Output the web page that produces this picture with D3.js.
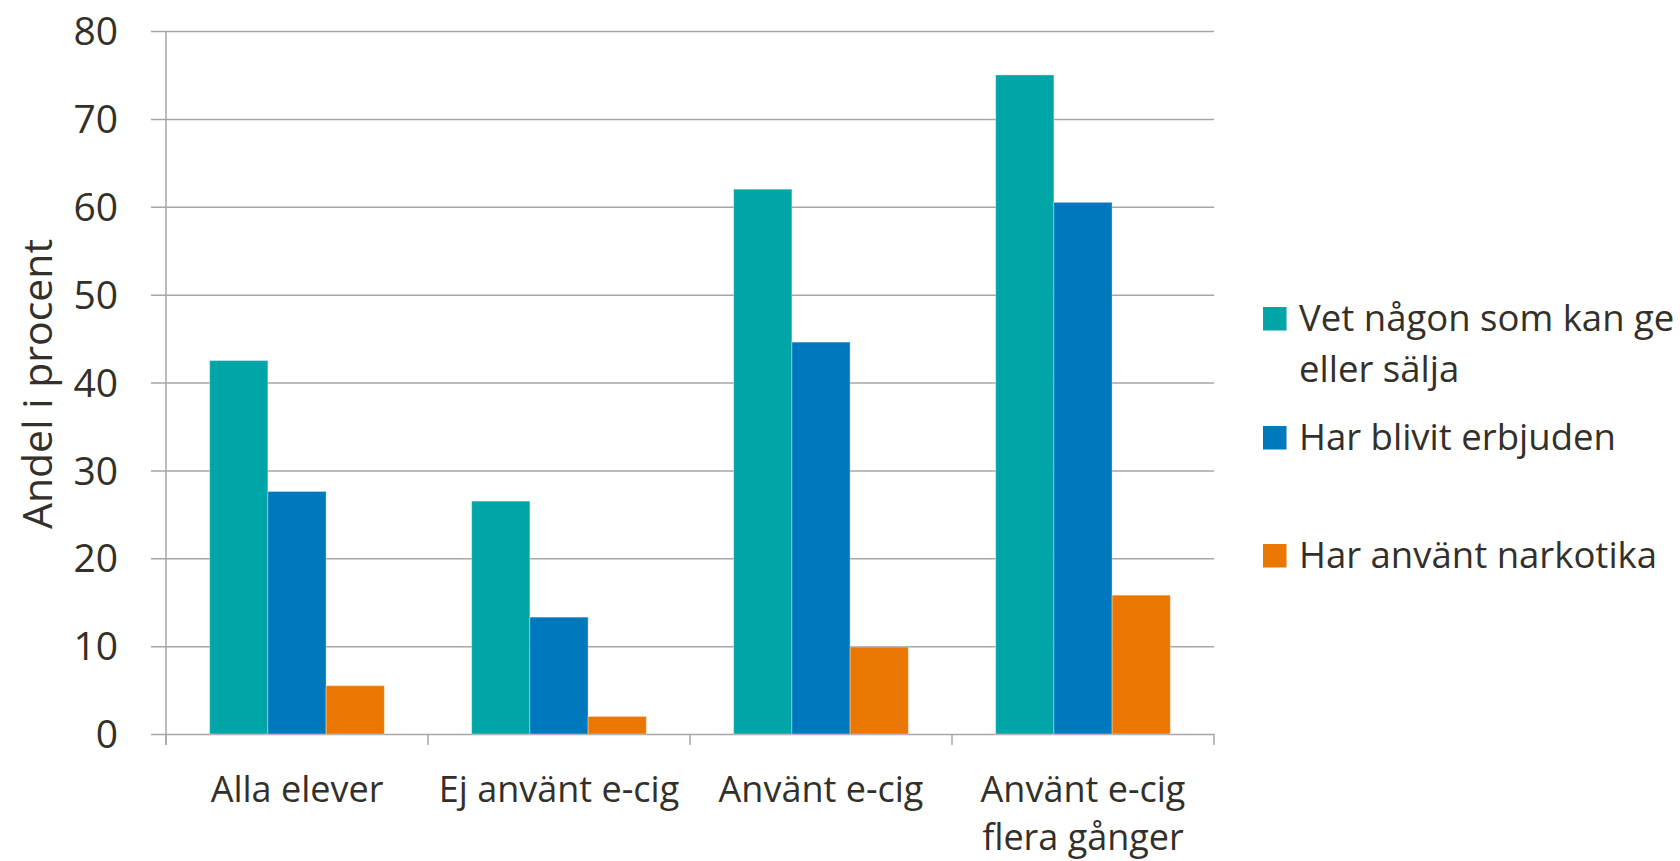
<!DOCTYPE html>
<html>
<head>
<meta charset="utf-8">
<script src="https://cdn.jsdelivr.net/npm/d3@7"></script>
<style>
  html, body { margin: 0; padding: 0; background: #ffffff; }
  svg { display: block; }
  text { font-family: "Open Sans", "Noto Sans", sans-serif; fill: #33302a; }
</style>
</head>
<body>
<svg id="chart" width="1680" height="861"></svg>
<script>
// ---- data ----
const categories = ["Alla elever", "Ej använt e-cig", "Använt e-cig", "Använt e-cig\nflera gånger"];
const seriesNames = ["Vet någon som kan ge\neller sälja", "Har blivit erbjuden", "Har använt narkotika"];
const vetNagon   = [42.5, 26.5, 62.0, 75.0];
const erbjuden   = [27.6, 13.3, 44.6, 60.5];
const narkotika  = [5.5, 2.0, 9.9, 15.8];
const yTicks = [0, 10, 20, 30, 40, 50, 60, 70, 80];
const yTitle = "Andel i procent";
const colors = ["#00A5A8", "#0078BD", "#EB7703"];

const seriesValues = [vetNagon, erbjuden, narkotika];

// ---- layout ----
const svg = d3.select("#chart");
const plotLeft = 166, plotRight = 1214, plotTop = 31, plotBottom = 734;

const x = d3.scaleBand().domain(categories).range([plotLeft, plotRight]).paddingInner(0).paddingOuter(0);
const bw = x.bandwidth();
const xs = d3.scaleBand().domain(d3.range(seriesNames.length))
  .range([bw * 0.75 / 4.5, bw * 3.75 / 4.5]).paddingInner(0).paddingOuter(0);
const y = d3.scaleLinear().domain([0, 80]).range([plotBottom, plotTop]);

// gridlines + y tick labels
const gridLeft = 151;
const yAxis = d3.axisLeft(y).tickValues(yTicks).tickFormat(d3.format("d"))
  .tickSizeInner(-(plotRight - gridLeft)).tickSizeOuter(0).tickPadding(33);
const gy = svg.append("g").attr("transform", `translate(${gridLeft},0)`).call(yAxis);
gy.select(".domain").remove();
gy.selectAll(".tick line").attr("stroke", "#a6a6a6").attr("stroke-width", 1.5);
gy.selectAll(".tick text").attr("font-size", 39).attr("fill", "#33302a")
  .attr("font-family", "'Open Sans', sans-serif").attr("dy", "0.35em");

// vertical axis line
svg.append("line").attr("x1", plotLeft).attr("x2", plotLeft).attr("y1", plotTop).attr("y2", plotBottom + 11)
  .attr("stroke", "#a6a6a6").attr("stroke-width", 1.5);

// category boundary ticks
const bounds = categories.map(c => x(c)).concat([x(categories[categories.length - 1]) + bw]);
svg.append("g").selectAll("line").data(bounds).join("line")
  .attr("x1", d => d).attr("x2", d => d).attr("y1", plotBottom).attr("y2", plotBottom + 11)
  .attr("stroke", "#a6a6a6").attr("stroke-width", 1.5);

// bars
const barData = [];
categories.forEach((c, ci) => {
  seriesValues.forEach((vals, si) => barData.push({ c, si, v: vals[ci] }));
});
svg.append("g").selectAll("rect").data(barData).join("rect")
  .attr("x", d => x(d.c) + xs(d.si))
  .attr("width", xs.bandwidth())
  .attr("y", d => y(d.v))
  .attr("height", d => y(0) - y(d.v))
  .attr("fill", d => colors[d.si])
  .attr("stroke", "rgba(255,255,255,0.35)").attr("stroke-width", 1);

// x labels
const xl = svg.append("g").selectAll("text").data(categories).join("text")
  .attr("x", d => x(d) + bw / 2)
  .attr("y", 802)
  .attr("text-anchor", "middle")
  .attr("font-size", 36);
xl.each(function(d) {
  const lines = d.split("\n");
  d3.select(this).selectAll("tspan").data(lines).join("tspan")
    .attr("x", x(d) + bw / 2)
    .attr("dy", (l, i) => i === 0 ? 0 : 48)
    .text(l => l);
});

// y title
svg.append("text")
  .attr("transform", "translate(52,384) rotate(-90)")
  .attr("text-anchor", "middle")
  .attr("font-size", 41)
  .text(yTitle);

// legend
const legendBaselines = [331, 450, 568];
const lg = svg.append("g").selectAll("g").data(seriesNames).join("g");
lg.append("rect")
  .attr("x", 1263).attr("y", (d, i) => legendBaselines[i] - 24)
  .attr("width", 23.5).attr("height", 23.5)
  .attr("fill", (d, i) => colors[i]);
lg.append("text")
  .attr("x", 1299).attr("y", (d, i) => legendBaselines[i])
  .attr("font-size", 36.5)
  .each(function(d) {
    d3.select(this).selectAll("tspan").data(d.split("\n")).join("tspan")
      .attr("x", 1299).attr("dy", (l, i) => i === 0 ? 0 : 51).text(l => l);
  });
</script>
</body>
</html>
